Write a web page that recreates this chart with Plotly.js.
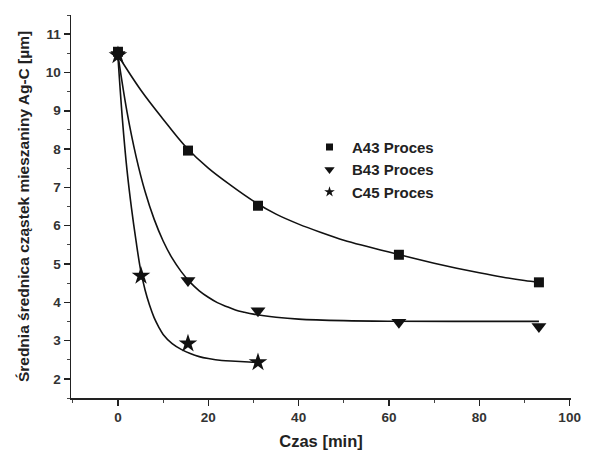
<!DOCTYPE html>
<html>
<head>
<meta charset="utf-8">
<script src="https://cdn.plot.ly/plotly-3.0.1.min.js"></script>
<style>
html,body{margin:0;padding:0;background:#fff;}
#chart{width:601px;height:455px;}
</style>
</head>
<body>
<div id="chart"></div>
<script>
// Measured points
var timeAB = [0, 15.5, 31, 62.2, 93.2];
var timeC = [0, 5.1, 15.5, 31];
var sizeA43 = [10.54, 7.96, 6.52, 5.24, 4.52];
var sizeB43 = [10.47, 4.57, 3.78, 3.48, 3.37];
var sizeC45 = [10.45, 4.69, 2.92, 2.43];

// Fitted curves
var fitA43x = [0, 5, 10, 15, 20, 25, 30, 35, 40, 45, 50, 55, 60, 65, 70, 75, 80, 85, 90, 93.2];
var fitA43y = [10.45, 9.55, 8.78, 8.06, 7.5, 7.05, 6.64, 6.3, 6.04, 5.82, 5.62, 5.46, 5.31, 5.16, 5.02, 4.89, 4.77, 4.66, 4.57, 4.52];
var fitB43x = [0, 2, 4, 6, 8, 10, 12, 14, 16, 18, 20, 22, 24, 26, 28, 30, 35, 40, 50, 60, 75, 93.2];
var fitB43y = [10.45, 8.97, 7.81, 6.89, 6.17, 5.6, 5.15, 4.8, 4.52, 4.3, 4.13, 3.99, 3.89, 3.8, 3.74, 3.69, 3.61, 3.56, 3.52, 3.505, 3.5, 3.5];
var fitC45x = [0, 1, 2, 3, 4, 5, 6, 7, 8, 9, 10, 12, 14, 16, 18, 20, 23, 26, 29, 31];
var fitC45y = [10.4, 8.75, 7.45, 6.45, 5.6, 4.85, 4.32, 3.92, 3.6, 3.36, 3.16, 2.92, 2.77, 2.66, 2.58, 2.53, 2.48, 2.46, 2.44, 2.43];

var seriesNames = ['A43 Proces', 'B43 Proces', 'C45 Proces'];
var xTitle = 'Czas [min]';
var yTitle = 'Średnia średnica cząstek mieszaniny Ag-C [µm]';

var FONT = '"Liberation Sans", Arial, sans-serif';
var INK = '#111';
var lineStyle = {color: INK, width: 1.6, shape: 'spline', smoothing: 1};

var traces = [
  {x: fitA43x, y: fitA43y, mode: 'lines', line: lineStyle, showlegend: false, hoverinfo: 'skip'},
  {x: fitB43x, y: fitB43y, mode: 'lines', line: lineStyle, showlegend: false, hoverinfo: 'skip'},
  {x: fitC45x, y: fitC45y, mode: 'lines', line: lineStyle, showlegend: false, hoverinfo: 'skip'},
  {x: timeAB, y: sizeA43, mode: 'markers', showlegend: false,
   marker: {symbol: 'square', size: 10, color: INK}},
  {x: timeAB, y: sizeB43, mode: 'markers', showlegend: false,
   marker: {symbol: 'triangle-down', size: 13, color: INK}},
  {x: timeC, y: sizeC45, mode: 'markers', showlegend: false,
   marker: {symbol: 'star', size: 14, color: INK}},
  // legend entries (small symbols as in the original legend)
  {x: [null], y: [null], mode: 'markers', name: seriesNames[0], legendgroup: 'a',
   marker: {symbol: 'square', size: 7, color: INK}},
  {x: [null], y: [null], mode: 'markers', name: seriesNames[1], legendgroup: 'b',
   marker: {symbol: 'triangle-down', size: 9, color: INK}},
  {x: [null], y: [null], mode: 'markers', name: seriesNames[2], legendgroup: 'c',
   marker: {symbol: 'star', size: 8, color: INK}}
];

var layout = {
  width: 601, height: 455,
  margin: {l: 71, r: 30, t: 15, b: 56.5},
  paper_bgcolor: '#fff', plot_bgcolor: '#fff',
  font: {family: FONT, color: '#222'},
  showlegend: true,
  legend: {
    x: 0.472, y: 0.698, xanchor: 'left', yanchor: 'top',
    bgcolor: 'rgba(0,0,0,0)', borderwidth: 0,
    font: {family: FONT, size: 15, weight: 'bold', color: '#222'},
    tracegroupgap: 0, itemwidth: 35
  },
  xaxis: {
    range: [-10.4, 100.3], showgrid: false, zeroline: false,
    showline: true, linecolor: '#222', linewidth: 1.5,
    ticks: 'outside', ticklen: 6, tickwidth: 1.5, tickcolor: '#222',
    tick0: 0, dtick: 20,
    minor: {ticks: 'outside', ticklen: 3, tickwidth: 1, tickcolor: '#444', dtick: 10, tick0: 0},
    tickfont: {family: FONT, size: 13.5, weight: 'bold', color: '#333'},
    title: {text: xTitle, font: {family: FONT, size: 16.5, weight: 'bold', color: '#222'}, standoff: 11}
  },
  yaxis: {
    range: [1.5, 11.5], showgrid: false, zeroline: false,
    showline: true, linecolor: '#222', linewidth: 1.5,
    ticks: 'outside', ticklen: 6, tickwidth: 1.5, tickcolor: '#222',
    tick0: 0, dtick: 1,
    minor: {ticks: 'outside', ticklen: 3, tickwidth: 1, tickcolor: '#444', dtick: 0.5},
    tickfont: {family: FONT, size: 13.5, weight: 'bold', color: '#333'},
    title: {text: yTitle, font: {family: FONT, size: 15.5, weight: 'bold', color: '#222'}, standoff: 12}
  }
};

Plotly.newPlot('chart', traces, layout, {displayModeBar: false, staticPlot: true});
</script>
</body>
</html>
